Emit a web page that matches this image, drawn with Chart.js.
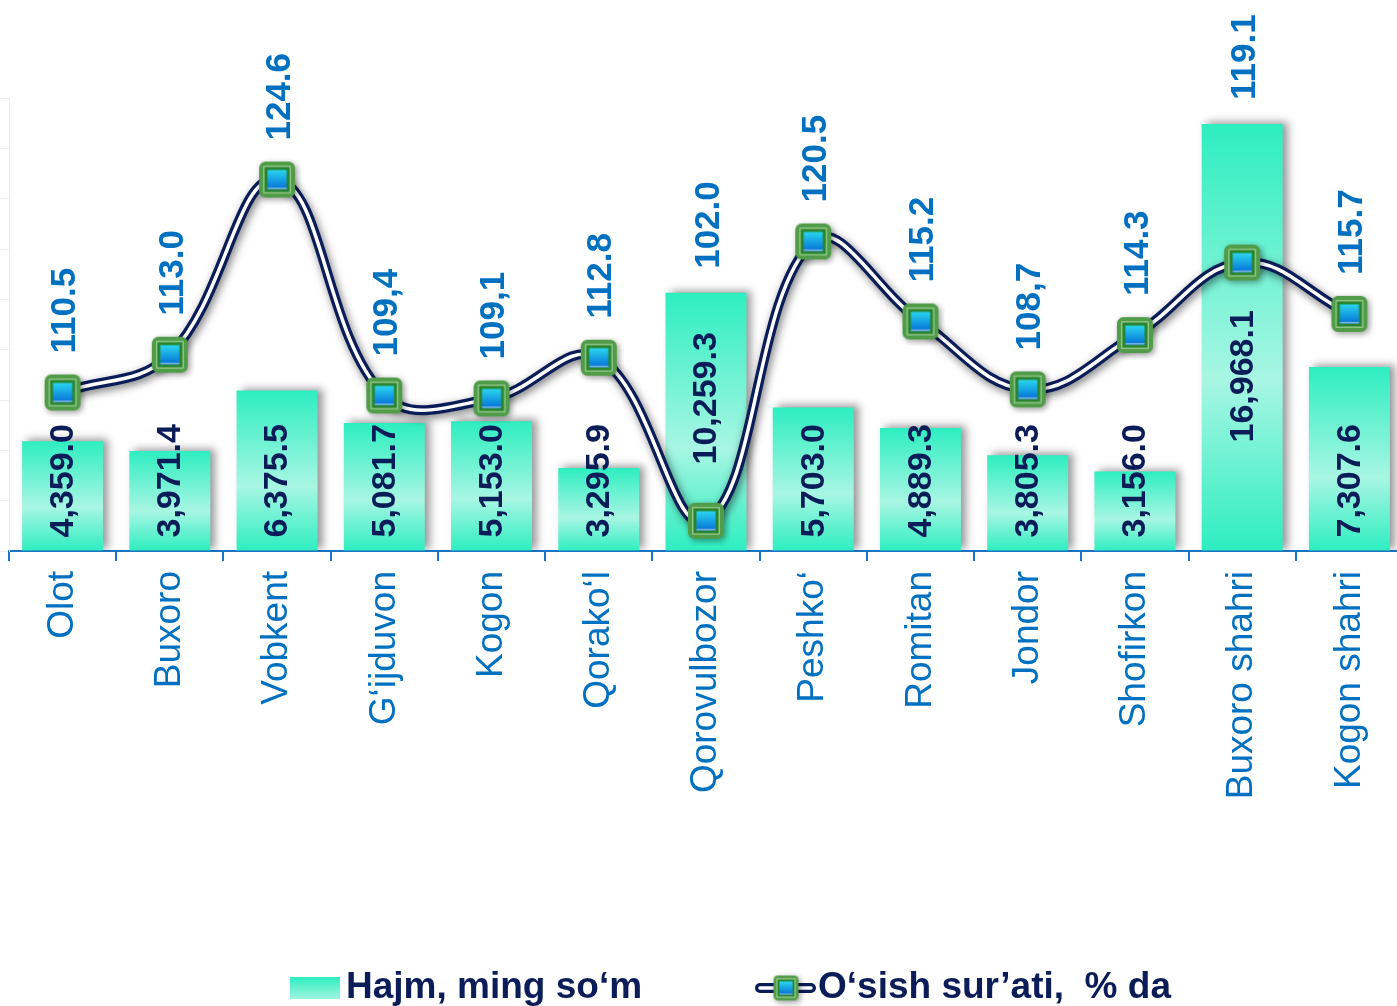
<!DOCTYPE html>
<html>
<head>
<meta charset="utf-8">
<script src="https://cdn.jsdelivr.net/npm/chart.js@4.4.1/dist/chart.umd.min.js"></script>
<style>
  html, body { margin: 0; padding: 0; background: #fff; overflow: hidden; }
  #wrap { width: 1403px; height: 1006px; position: relative; }
</style>
</head>
<body>
<div id="wrap"><canvas id="chart"></canvas></div>
<script>
const categories = ['Olot', 'Buxoro', 'Vobkent', 'G‘ijduvon', 'Kogon', 'Qorako‘l', 'Qorovulbozor',
    'Peshko‘', 'Romitan', 'Jondor', 'Shofirkon', 'Buxoro shahri', 'Kogon shahri'];
const volume = [4359.0, 3971.4, 6375.5, 5081.7, 5153.0, 3295.9, 10259.3, 5703.0, 4889.3, 3805.3, 3156.0, 16968.1, 7307.6];
// plotted positions of the growth line (as drawn)
const growth = [110.5, 113.0, 124.6, 110.3, 110.1, 112.8, 102.0, 120.5, 115.2, 110.7, 114.3, 119.1, 115.7];
// texts written next to the markers
const growthLabels = ['110.5', '113.0', '124.6', '109,4', '109,1', '112.8', '102.0', '120.5', '115.2', '108,7', '114.3', '119.1', '115.7'];
const legendNames = ['Hajm, ming so‘m', 'O‘sish sur’ati,  % da'];

const FONT = '"Liberation Sans", Arial, sans-serif';
const NAVY = '#0a1d58';
const BLUE = '#0070c0';
const TEAL = '#2deec0';
const TEAL_LIGHT = '#a8f6e3';

// bar labels that were moved up by hand in the original
const barLabelLift = {6: 73, 11: 95};

function roundRect(g, x, y, w, h, r) {
    g.beginPath();
    g.moveTo(x + r, y);
    g.arcTo(x + w, y, x + w, y + h, r);
    g.arcTo(x + w, y + h, x, y + h, r);
    g.arcTo(x, y + h, x, y, r);
    g.arcTo(x, y, x + w, y, r);
    g.closePath();
}

function makeMarker(size) {
    const pad = 7;
    const c = document.createElement('canvas');
    c.width = c.height = size + pad * 2;
    const g = c.getContext('2d');
    const o = pad;
    g.save();
    g.shadowColor = 'rgba(0,0,0,0.4)';
    g.shadowBlur = 6;
    g.shadowOffsetX = 2;
    g.shadowOffsetY = 2;
    g.fillStyle = '#519c48';
    roundRect(g, o, o, size, size, size * 0.18);
    g.fill();
    g.restore();
    const k = size / 34;
    g.strokeStyle = '#a9d6a0';
    g.lineWidth = 1;
    g.strokeRect(o + 4.5 * k, o + 4.5 * k, size - 9 * k, size - 9 * k);
    g.fillStyle = '#27852f';
    g.fillRect(o + 5.5 * k, o + 5.5 * k, size - 11 * k, size - 11 * k);
    const gr = g.createLinearGradient(0, o + 8 * k, 0, o + size - 8 * k);
    gr.addColorStop(0, '#2ad6f0');
    gr.addColorStop(1, '#0570d8');
    g.fillStyle = gr;
    g.fillRect(o + 8 * k, o + 8 * k, size - 16 * k, size - 16 * k);
    g.fillStyle = '#7fb6e6';
    g.fillRect(o + 8 * k, o + size - 9.5 * k, size - 16 * k, 1.5 * k);
    return c;
}

const marker = makeMarker(36);
const legendMarker = makeMarker(25);

function barGradient(ctx, top, base) {
    const gr = ctx.createLinearGradient(0, top, 0, base);
    gr.addColorStop(0, TEAL);
    gr.addColorStop(0.6, TEAL_LIGHT);
    gr.addColorStop(1, TEAL);
    return gr;
}

const shadowPlugin = {
    id: 'shadows',
    beforeDatasetDraw(chart, args) {
        const ctx = chart.ctx;
        ctx.save();
        if (args.index === 0) {
            ctx.shadowColor = 'rgba(0,0,0,0.4)';
            ctx.shadowBlur = 8;
            ctx.shadowOffsetX = 5;
            ctx.shadowOffsetY = -2;
        } else if (args.index === 1) {
            ctx.shadowColor = 'rgba(0,0,0,0.5)';
            ctx.shadowBlur = 9;
            ctx.shadowOffsetX = 2;
            ctx.shadowOffsetY = 3;
        }
    },
    afterDatasetDraw(chart, args) {
        const ctx = chart.ctx;
        ctx.restore();
        if (args.index !== 0) return;
        // bar value labels, drawn before the line so the line passes over them
        ctx.save();
        ctx.font = 'bold 34px ' + FONT;
        ctx.fillStyle = NAVY;
        ctx.textAlign = 'left';
        ctx.textBaseline = 'middle';
        args.meta.data.forEach((bar, i) => {
            const txt = volume[i].toLocaleString('en-US', {minimumFractionDigits: 1, maximumFractionDigits: 1});
            const y = bar.base - 13 - (barLabelLift[i] || 0);
            ctx.save();
            ctx.translate(bar.x + 1, y);
            ctx.rotate(-Math.PI / 2);
            ctx.fillText(txt, 0, 0);
            ctx.restore();
        });
        ctx.restore();
    }
};

const labelPlugin = {
    id: 'lineLabels',
    afterDatasetsDraw(chart) {
        const ctx = chart.ctx;
        const bars = chart.getDatasetMeta(0).data;
        const pts = chart.getDatasetMeta(2).data;
        ctx.save();
        ctx.font = 'bold 35px ' + FONT;
        ctx.fillStyle = BLUE;
        ctx.textAlign = 'left';
        ctx.textBaseline = 'middle';
        pts.forEach((p, i) => {
            const y = Math.min(p.y - 39, bars[i].y - 24);
            ctx.save();
            ctx.translate(p.x + 3, y);
            ctx.rotate(-Math.PI / 2);
            ctx.fillText(growthLabels[i], 0, 0);
            ctx.restore();
        });
        ctx.restore();
    },
    afterDraw(chart) {
        // legend at the bottom
        const ctx = chart.ctx;
        const cy = 988;
        ctx.save();
        ctx.fillStyle = barGradient(ctx, cy - 11, cy + 28);
        ctx.fillRect(290, cy - 11, 50, 22);
        ctx.lineCap = 'round';
        ctx.strokeStyle = NAVY;
        ctx.lineWidth = 10;
        ctx.beginPath(); ctx.moveTo(760, cy); ctx.lineTo(811, cy); ctx.stroke();
        ctx.strokeStyle = '#fff';
        ctx.lineWidth = 3.5;
        ctx.beginPath(); ctx.moveTo(760, cy); ctx.lineTo(811, cy); ctx.stroke();
        ctx.drawImage(legendMarker, 786 - legendMarker.width / 2, cy - legendMarker.height / 2);
        ctx.font = 'bold 37px ' + FONT;
        ctx.fillStyle = NAVY;
        ctx.textBaseline = 'middle';
        ctx.fillText(legendNames[0], 346, cy);
        ctx.fillText(legendNames[1], 818, cy);
        ctx.restore();
    }
};

new Chart(document.getElementById('chart'), {
    data: {
        labels: categories,
        datasets: [{
            type: 'bar',
            label: legendNames[0],
            data: volume,
            yAxisID: 'y',
            order: 3,
            categoryPercentage: 1,
            barPercentage: 0.755,
            backgroundColor: (c) => {
                const chart = c.chart;
                if (!chart.chartArea || c.type !== 'data') return TEAL;
                const ys = chart.scales.y;
                return barGradient(chart.ctx, ys.getPixelForValue(c.raw), ys.getPixelForValue(0));
            }
        }, {
            type: 'line',
            label: legendNames[1],
            data: growth,
            yAxisID: 'y1',
            order: 2,
            borderColor: NAVY,
            borderWidth: 10,
            tension: 0.4,
            pointRadius: 0,
            pointHoverRadius: 0
        }, {
            type: 'line',
            label: 'inner',
            data: growth,
            yAxisID: 'y1',
            order: 1,
            borderColor: '#ffffff',
            borderWidth: 3.5,
            tension: 0.4,
            pointStyle: marker,
            pointRadius: 18,
            pointHoverRadius: 18
        }]
    },
    options: {
        responsive: true,
        maintainAspectRatio: false,
        animation: false,
        events: [],
        layout: {autoPadding: false, padding: {top: 98, right: 0, bottom: 0, left: 0}},
        plugins: {
            legend: {display: false},
            tooltip: {enabled: false}
        },
        scales: {
            x: {
                grid: {drawOnChartArea: false, offset: true, tickLength: 10, color: '#1a74c8', lineWidth: 2},
                border: {color: '#1a74c8', width: 2},
                ticks: {
                    color: BLUE,
                    font: {family: FONT, size: 37},
                    minRotation: 90,
                    maxRotation: 90,
                    padding: 10,
                    autoSkip: false
                },
                afterFit(s) {
                    s.height = 1006 - 551;
                    s.paddingLeft = 0;
                    s.paddingRight = 0;
                }
            },
            y: {
                position: 'left',
                min: 0,
                max: 18000,
                ticks: {display: false, stepSize: 2000},
                grid: {drawOnChartArea: false, tickLength: 9, color: '#ececec'},
                border: {color: '#ececec'},
                afterFit(s) {
                    s.width = 9;
                    s.paddingTop = 0;
                    s.paddingBottom = 0;
                }
            },
            y1: {
                display: false,
                min: 100,
                max: 130
            }
        }
    },
    plugins: [shadowPlugin, labelPlugin]
});
</script>
</body>
</html>
